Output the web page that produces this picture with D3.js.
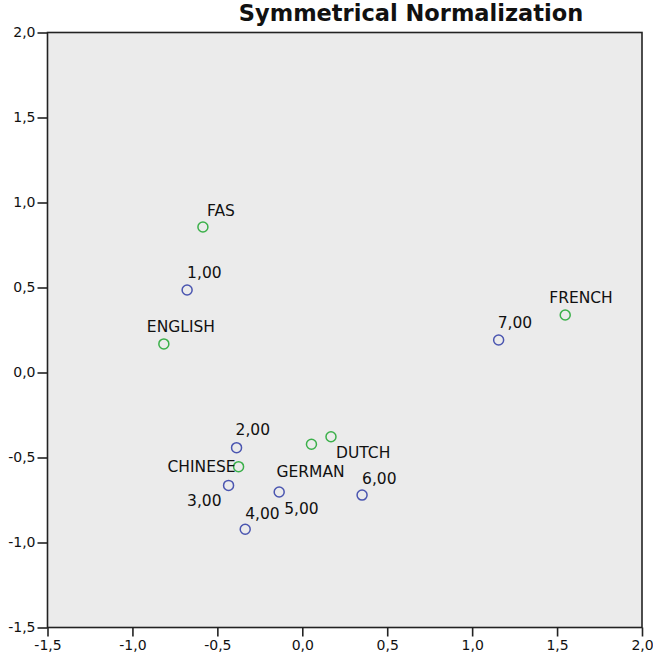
<!DOCTYPE html>
<html>
<head>
<meta charset="utf-8">
<script src="https://cdn.jsdelivr.net/npm/d3@7"></script>
<style>
  body { margin: 0; background: #fff; }
  svg text { font-family: "DejaVu Sans", "Liberation Sans", sans-serif; fill: #111; }
</style>
</head>
<body>
<svg id="chart" width="653" height="656"></svg>
<script>
// row points (blue) and column points (green)
var rowNames = ["1,00", "2,00", "3,00", "4,00", "5,00", "6,00", "7,00"];
var rowX = [-0.678, -0.387, -0.434, -0.336, -0.136, 0.352, 1.156];
var rowY = [0.485, -0.442, -0.664, -0.922, -0.703, -0.721, 0.191];

var colNames = ["FAS", "ENGLISH", "FRENCH", "CHINESE", "GERMAN", "DUTCH"];
var colX = [-0.585, -0.815, 1.548, -0.375, 0.054, 0.169];
var colY = [0.856, 0.168, 0.338, -0.554, -0.422, -0.378];

var xTicks = [-1.5, -1.0, -0.5, 0.0, 0.5, 1.0, 1.5, 2.0];
var yTicks = [-1.5, -1.0, -0.5, 0.0, 0.5, 1.0, 1.5, 2.0];

var title = "Symmetrical Normalization";

// where each label sits relative to its marker (layout only)
var rowLabelPos = [[0, -18, "start"], [-1, -18, "start"], [-7, 15, "end"], [0, -16, "start"],
                   [5, 16, "start"], [0, -17, "start"], [-1, -18, "start"]];
var colLabelPos = [[4, -17, "start"], [-17, -18, "start"], [-16, -18, "start"], [-3, 0, "end"],
                   [-35, 27, "start"], [5, 16, "start"]];

var svg = d3.select("#chart");
var margin = {left: 47.5, top: 32.5, right: 11, bottom: 28.5};
var w = 653 - margin.left - margin.right;
var h = 656 - margin.top - margin.bottom;

var x = d3.scaleLinear().domain([-1.5, 2.0]).range([margin.left, margin.left + w]);
var y = d3.scaleLinear().domain([-1.5, 2.0]).range([margin.top + h, margin.top]);

var fmt = function(d) { return d3.format(".1f")(d).replace(".", ",").replace("\u2212", "-"); };

svg.append("text")
    .attr("x", 411).attr("y", 21)
    .attr("text-anchor", "middle")
    .style("font-size", "22.5px").style("font-weight", "bold")
    .text(title);

svg.append("rect")
    .attr("x", margin.left).attr("y", margin.top)
    .attr("width", w).attr("height", h)
    .attr("fill", "#ebebeb")
    .attr("stroke", "#222").attr("stroke-width", 1.6);

var xAxis = svg.append("g")
    .attr("transform", "translate(0," + (margin.top + h) + ")")
    .call(d3.axisBottom(x).tickValues(xTicks).tickFormat(fmt).tickSize(9).tickPadding(4));
var yAxis = svg.append("g")
    .attr("transform", "translate(" + margin.left + ",0)")
    .call(d3.axisLeft(y).tickValues(yTicks).tickFormat(fmt).tickSize(10).tickPadding(2));

[xAxis, yAxis].forEach(function(a) {
    a.select(".domain").remove();
    a.selectAll(".tick line").attr("stroke", "#222").attr("stroke-width", 1.6);
    a.selectAll(".tick text").style("font-size", "14px").attr("fill", "#111")
        .style("font-family", "\"DejaVu Sans\", sans-serif");
});

var rows = rowNames.map(function(n, i) { return {name: n, x: rowX[i], y: rowY[i], lab: rowLabelPos[i]}; });
var cols = colNames.map(function(n, i) { return {name: n, x: colX[i], y: colY[i], lab: colLabelPos[i]}; });

function drawSet(data, color) {
    var g = svg.append("g");
    g.selectAll("circle").data(data).enter().append("circle")
        .attr("cx", function(d) { return x(d.x); })
        .attr("cy", function(d) { return y(d.y); })
        .attr("r", 5)
        .attr("fill", "none")
        .attr("stroke", color).attr("stroke-width", 1.5);
    g.selectAll("text").data(data).enter().append("text")
        .attr("x", function(d) { return x(d.x) + d.lab[0]; })
        .attr("y", function(d) { return y(d.y) + d.lab[1]; })
        .attr("dy", "0.36em")
        .attr("text-anchor", function(d) { return d.lab[2]; })
        .style("font-size", "15.5px")
        .text(function(d) { return d.name; });
}

drawSet(rows, "#4a55b0");
drawSet(cols, "#3bb04a");
</script>
</body>
</html>
